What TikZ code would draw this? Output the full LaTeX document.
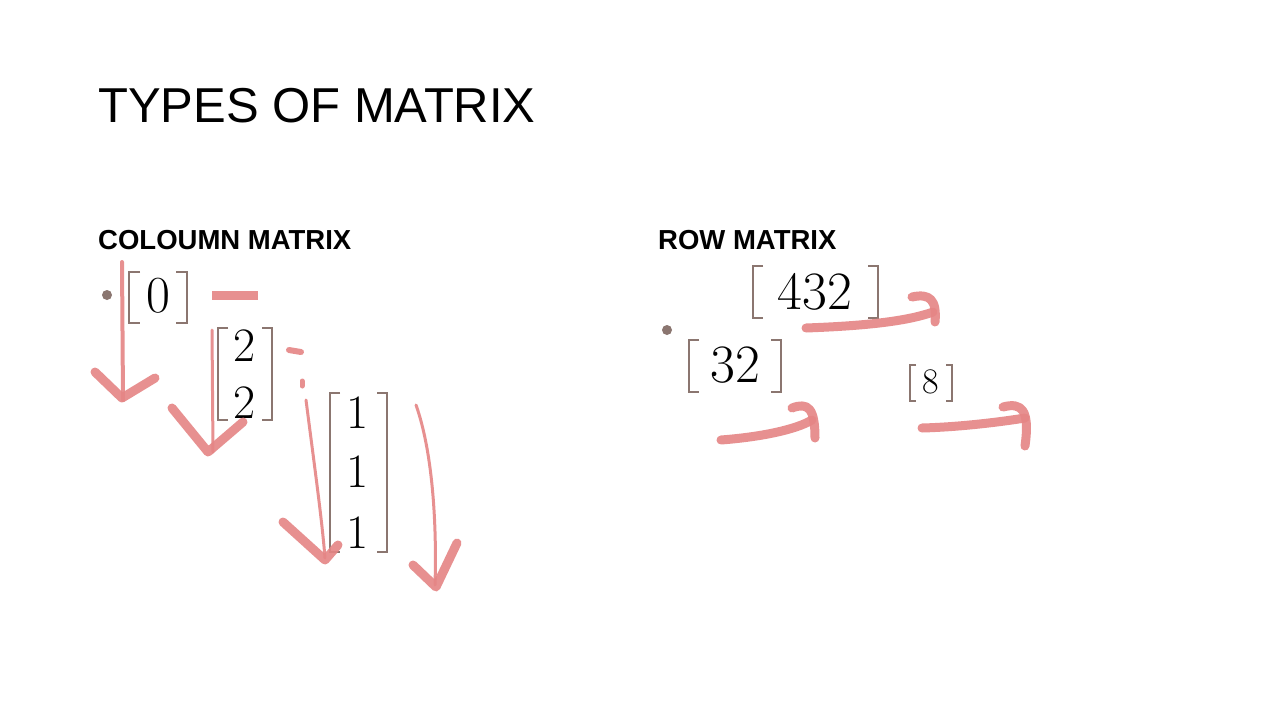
\documentclass[tikz,border=0pt]{standalone}
\usepackage{fontspec}
\setsansfont{Liberation Sans}
\begin{document}
\begin{tikzpicture}[x=1pt,y=-1pt]
\definecolor{br}{HTML}{8B7670}
\definecolor{pk}{HTML}{E58585}
\tikzset{ink/.style={draw=pk,line width=7pt,line cap=round,line join=round,opacity=0.9},
txt/.style={inner sep=0pt,anchor=base west},
dig/.style={inner sep=0pt,font=\rmfamily\fontsize{#1}{#1}\selectfont},
brk/.style={draw=br,line width=2.5pt}}
\useasboundingbox (0,0) rectangle (1280,720);
\fill[white] (0,0) rectangle (1280,720);
\node[txt] (title) at (98,122) {\sffamily\fontsize{49}{60}\selectfont TYPES OF MATRIX};
\node[txt] (h1) at (98,249) {\sffamily\bfseries\fontsize{27.5}{30}\selectfont COLOUMN MATRIX};
\node[txt] (h2) at (658,249) {\sffamily\bfseries\fontsize{27.5}{30}\selectfont ROW MATRIX};
\fill[br] (107,295) circle (5);
\fill[br] (667,330) circle (5);
% [0]
\node[dig=52] (m0) at (158,296) {0};
\draw[brk] (140,272) -- (129,272) -- (129,323) -- (140,323);
\draw[brk] (176,272) -- (187,272) -- (187,323) -- (176,323);
% [2;2]
\node[dig=48] (m2a) at (245,346) {2};
\node[dig=48] (m2b) at (245,403) {2};
\draw[brk] (228,328) -- (218,328) -- (218,420) -- (228,420);
\draw[brk] (262,328) -- (272,328) -- (272,420) -- (262,420);
% [1;1;1]
\node[dig=48] (m3a) at (358,413) {1};
\node[dig=48] (m3b) at (358,472) {1};
\node[dig=48] (m3c) at (358,533) {1};
\draw[brk] (340,393) -- (330,393) -- (330,552) -- (340,552);
\draw[brk] (377,393) -- (387,393) -- (387,552) -- (377,552);
% [432]
\node[dig=54] (r1) at (815,292) {432};
\draw[brk] (763,266) -- (753,266) -- (753,318) -- (763,318);
\draw[brk] (868,266) -- (878,266) -- (878,318) -- (868,318);
% [32]
\node[dig=54] (r2) at (735,365) {32};
\draw[brk] (699,340) -- (689,340) -- (689,392) -- (699,392);
\draw[brk] (771,340) -- (781,340) -- (781,392) -- (771,392);
% [8]
\node[dig=36] (r3) at (931,382) {8};
\draw[brk,line width=2pt] (916,365) -- (910,365) -- (910,401) -- (916,401);
\draw[brk,line width=2pt] (946,365) -- (952,365) -- (952,401) -- (946,401);
% strokes left
\draw[ink,line width=4pt] (122,262) -- (123,400);
\draw[ink,line width=9pt] (95,372) -- (122,398) -- (155,378);
\draw[ink,line width=9pt,line cap=butt] (212,295) -- (258,295);
\draw[ink,line width=3pt] (212,330) -- (213,452);
\draw[ink,line width=9pt] (172,408) -- (208,452) -- (243,422);
\draw[ink,line width=6pt] (289,350) -- (301,352);
\draw[ink,line width=5pt] (302,381) -- (302,386);
\draw[ink,line width=3pt] (306,400) .. controls (315,470) and (322,520) .. (325,558);
\draw[ink,line width=9pt] (283,522) -- (325,560) -- (338,545);
\draw[ink,line width=3pt] (416,405) .. controls (432,450) and (437,520) .. (435,585);
\draw[ink,line width=9pt] (413,565) -- (436,587) -- (457,543);
% strokes right
\draw[ink,line width=9pt] (806,328) .. controls (860,326) and (905,322) .. (933,312);
\draw[ink,line width=9pt] (912,297) .. controls (930,293) and (937,300) .. (935,322);
\draw[ink,line width=9pt] (721,440) .. controls (760,437) and (795,430) .. (812,420);
\draw[ink,line width=9pt] (792,408) .. controls (808,402) and (815,408) .. (815,438);
\draw[ink,line width=9pt] (922,428) .. controls (960,427) and (1000,422) .. (1025,418);
\draw[ink,line width=9pt] (1003,407) .. controls (1022,402) and (1030,410) .. (1025,446);
\end{tikzpicture}
\end{document}
